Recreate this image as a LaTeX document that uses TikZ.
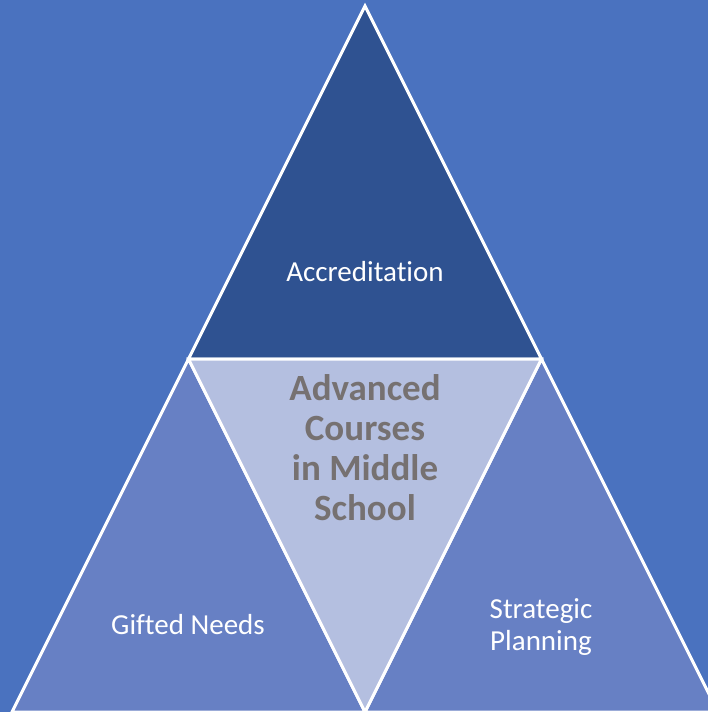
\documentclass[tikz,border=0pt]{standalone}
\usepackage{fontspec}
\setmainfont{Carlito}[RawFeature={-liga}]
\definecolor{bgblue}{HTML}{4A72BF}
\definecolor{darkblue}{HTML}{2F5291}
\definecolor{lightblue}{HTML}{B4BFE0}
\definecolor{midblue}{HTML}{6780C4}
\definecolor{graytext}{HTML}{767171}
\begin{document}
\begin{tikzpicture}[x=1pt,y=-1pt,
  tri/.style={draw=white,line width=3pt,line join=miter},
  lbl/.style={text=white,font=\fontsize{29}{32}\selectfont,align=center},
  ctr/.style={text=graytext,font=\fontsize{37}{40}\selectfont\bfseries,align=center}]
\fill[bgblue] (0,0) rectangle (708,712);
\useasboundingbox (0,0) rectangle (708,712);
\begin{scope}
\clip (0,0) rectangle (708,712);
\coordinate (apex) at (365,6);
\coordinate (L) at (188.5,359);
\coordinate (R) at (541.5,359);
\coordinate (B) at (365,712);
\coordinate (BL) at (12,712);
\coordinate (BR) at (718,712);
\filldraw[tri,fill=darkblue] (apex) -- (R) -- (L) -- cycle;
\filldraw[tri,fill=midblue] (L) -- (B) -- (BL) -- cycle;
\filldraw[tri,fill=midblue] (R) -- (BR) -- (B) -- cycle;
\filldraw[tri,fill=lightblue] (L) -- (R) -- (B) -- cycle;
\end{scope}
\node[lbl] (acc) at (365,272) {Accreditation};
\node[lbl] (gift) at (188,625) {Gifted Needs};
\node[lbl] (strat) at (541,627) {Strategic\\Planning};
\node[ctr] (center) at (365,448) {Advanced\\Courses\\in Middle\\School};
\end{tikzpicture}
\end{document}
